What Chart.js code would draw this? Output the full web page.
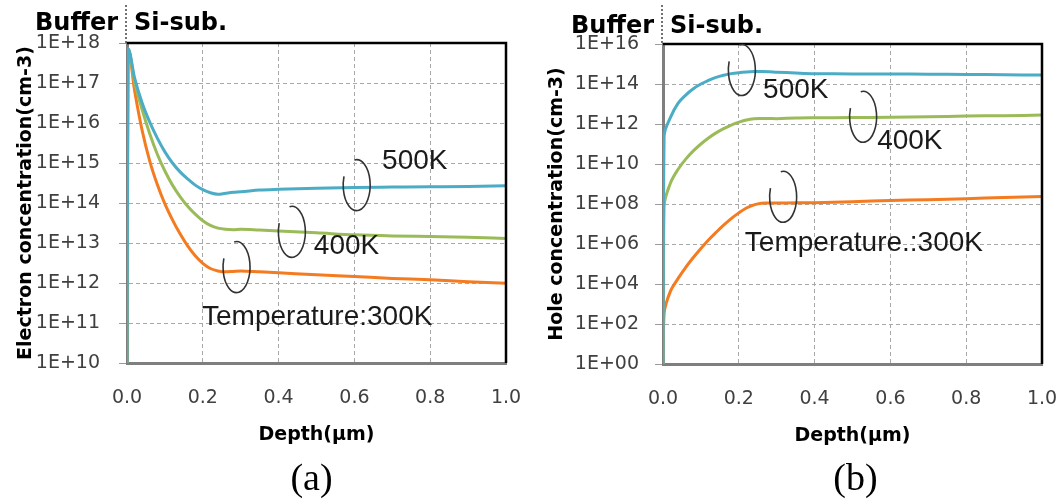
<!DOCTYPE html>
<html>
<head>
<meta charset="utf-8">
<script src="https://cdn.jsdelivr.net/npm/chart.js@4.4.1/dist/chart.umd.min.js"></script>
<style>
  html, body { margin: 0; padding: 0; background: #fff; }
  #wrap { position: relative; width: 1059px; height: 502px; overflow: hidden; }
  .panel { position: absolute; top: 0; }
  #pa { left: 0; }
  #pb { left: 530px; }
</style>
</head>
<body>
<div id="wrap">
  <canvas id="pa" class="panel" width="530" height="502"></canvas>
  <canvas id="pb" class="panel" width="529" height="502"></canvas>
</div>
<script>
// ---------------- data ----------------
const depthUm = [0, 0.003, 0.02, 0.04, 0.06, 0.08, 0.10, 0.12, 0.14, 0.16, 0.18, 0.20,
                 0.22, 0.24, 0.26, 0.28, 0.30, 0.35, 0.40, 0.50, 0.60, 0.70, 0.80, 0.90, 1.00];

// (a) electron concentration (cm-3)
const electron500K = [1e10, 7.1e17, 1.35e17, 3.16e16, 1.05e16, 4.2e15, 1.9e15, 1.0e15, 6.0e14, 4.0e14, 2.8e14, 2.15e14,
                      1.8e14, 1.65e14, 1.75e14, 1.85e14, 1.9e14, 2.1e14, 2.2e14, 2.35e14, 2.45e14, 2.5e14, 2.55e14, 2.6e14, 2.7e14];
const electron400K = [1e10, 7.1e17, 1.07e17, 2.14e16, 5.4e15, 1.66e15, 6.3e14, 2.8e14, 1.45e14, 8.3e13, 5.25e13, 3.6e13,
                      2.75e13, 2.35e13, 2.2e13, 2.15e13, 2.2e13, 2.1e13, 2.0e13, 1.8e13, 1.6e13, 1.5e13, 1.45e13, 1.4e13, 1.3e13];
const electron300K = [1e10, 7.1e17, 6.5e16, 6.5e15, 1.12e15, 2.9e14, 9.5e13, 3.8e13, 1.7e13, 8.5e12, 4.8e12, 3.1e12,
                      2.3e12, 2.0e12, 1.9e12, 1.95e12, 2.0e12, 1.9e12, 1.8e12, 1.6e12, 1.45e12, 1.3e12, 1.2e12, 1.07e12, 0.98e12];

// (b) hole concentration (cm-3)
const hole500K = [1, 2.5e11, 2.2e12, 1.1e13, 2.8e13, 5.8e13, 1.0e14, 1.5e14, 2.15e14, 2.75e14, 3.3e14, 3.7e14,
                  4.0e14, 4.2e14, 4.2e14, 4.1e14, 3.9e14, 3.55e14, 3.3e14, 3.2e14, 3.15e14, 3.1e14, 3.0e14, 2.9e14, 2.8e14];
const hole400K = [1, 8e7, 1.15e9, 5.5e9, 1.75e10, 4.5e10, 1.0e11, 2.0e11, 3.6e11, 5.9e11, 8.9e11, 1.23e12,
                  1.6e12, 1.85e12, 1.9e12, 1.9e12, 1.85e12, 2.0e12, 2.05e12, 2.1e12, 2.15e12, 2.3e12, 2.5e12, 2.6e12, 2.8e12];
const hole300K = [1, 350, 4500, 1.9e4, 6.8e4, 2.1e5, 6.0e5, 1.6e6, 3.8e6, 8.7e6, 1.86e7, 3.6e7,
                  6.3e7, 9.1e7, 1.1e8, 1.12e8, 1.12e8, 1.15e8, 1.17e8, 1.3e8, 1.5e8, 1.65e8, 1.85e8, 2.1e8, 2.35e8];

const xTickValues = [0, 0.2, 0.4, 0.6, 0.8, 1.0];
const xTickLabels = ['0.0', '0.2', '0.4', '0.6', '0.8', '1.0'];
const electronTickValues = [1e10, 1e11, 1e12, 1e13, 1e14, 1e15, 1e16, 1e17, 1e18];
const electronTickLabels = ['1E+10', '1E+11', '1E+12', '1E+13', '1E+14', '1E+15', '1E+16', '1E+17', '1E+18'];
const holeTickValues = [1e0, 1e2, 1e4, 1e6, 1e8, 1e10, 1e12, 1e14, 1e16];
const holeTickLabels = ['1E+00', '1E+02', '1E+04', '1E+06', '1E+08', '1E+10', '1E+12', '1E+14', '1E+16'];

const seriesColors = { k500: '#4BACC6', k400: '#9BBB59', k300: '#F47B20' };

// ---------------- helpers ----------------
function pts(values) { return depthUm.map((d, i) => ({ x: d, y: values[i] })); }

function ds(label, values, color, smooth) {
  const o = {
    label, data: pts(values), borderColor: color, backgroundColor: color,
    borderWidth: 3, pointRadius: 0, fill: false
  };
  if (smooth === 'monotone') o.cubicInterpolationMode = 'monotone';
  else o.tension = 0.35;
  return o;
}

function decoPlugin(cfg) {
  return {
    id: 'deco',
    afterDatasetsDraw(chart) {
      const { ctx, chartArea: ca, scales } = chart;
      const xs = scales.x, ys = scales.y;
      ctx.save();
      // black frame top & right
      ctx.strokeStyle = '#000';
      ctx.lineWidth = 2.5;
      ctx.beginPath();
      ctx.moveTo(ca.left, ca.top);
      ctx.lineTo(ca.right, ca.top);
      ctx.lineTo(ca.right, ca.bottom);
      ctx.stroke();
      // rings
      ctx.strokeStyle = '#333';
      ctx.lineWidth = 1.6;
      cfg.rings.forEach(r => {
        const cx = xs.getPixelForValue(r.x), cy = ys.getPixelForValue(r.y);
        ctx.beginPath();
        ctx.ellipse(cx, cy, 13.5, 25.5, 0, -100 * Math.PI / 180, 200 * Math.PI / 180);
        ctx.stroke();
      });
      // labels
      ctx.fillStyle = '#1a1a1a';
      ctx.font = '28px "Liberation Sans", Arial, sans-serif';
      ctx.textAlign = 'left';
      ctx.textBaseline = 'middle';
      cfg.labels.forEach(l => {
        ctx.fillText(l.text, xs.getPixelForValue(l.x), ys.getPixelForValue(l.y));
      });
      // header: Buffer | Si-sub.
      const x0 = xs.getPixelForValue(0);
      ctx.strokeStyle = '#444';
      ctx.lineWidth = 1.5;
      ctx.setLineDash([2, 2]);
      ctx.beginPath();
      ctx.moveTo(x0 - 1, 5);
      ctx.lineTo(x0 - 1, ca.top);
      ctx.stroke();
      ctx.setLineDash([]);
      ctx.fillStyle = '#000';
      ctx.font = 'bold 24px "DejaVu Sans", sans-serif';
      ctx.textBaseline = 'alphabetic';
      ctx.textAlign = 'right';
      ctx.fillText('Buffer', x0 - 9, cfg.headerBaseline);
      ctx.textAlign = 'left';
      ctx.fillText('Si-sub.', x0 + 7, cfg.headerBaseline);
      // caption
      ctx.font = '38px "Liberation Serif", "Times New Roman", serif';
      ctx.textAlign = 'center';
      ctx.textBaseline = 'middle';
      ctx.fillText(cfg.caption, (ca.left + ca.right) / 2 + cfg.captionShift, 480);
      ctx.restore();
    }
  };
}

function makeChart(canvasId, datasets, yTickValues, yTickLabels, yTitle, layout, deco) {
  return new Chart(document.getElementById(canvasId), {
    type: 'line',
    data: { datasets },
    options: {
      responsive: false,
      animation: false,
      layout: { padding: layout.padding },
      plugins: { legend: { display: false }, tooltip: { enabled: false } },
      scales: {
        x: {
          type: 'linear', min: 0, max: 1,
          afterBuildTicks: s => { s.ticks = xTickValues.map(v => ({ value: v })); },
          afterFit: s => { s.height = layout.xHeight; },
          grid: { color: '#a8a8a8', lineWidth: 1, drawTicks: true, tickLength: 24, tickColor: 'rgba(0,0,0,0)' },
          border: { display: true, color: '#7f7f7f', width: 3, dash: [4, 3] },
          ticks: {
            padding: 0, autoSkip: false, maxRotation: 0, color: '#404040',
            font: { family: '"DejaVu Sans", sans-serif', size: 19 },
            callback: (v, i) => xTickLabels[i]
          },
          title: {
            display: true, text: 'Depth(μm)', color: '#000', padding: { top: 0, bottom: 0 },
            font: { family: '"DejaVu Sans", sans-serif', size: 19, weight: 'bold' }
          }
        },
        y: {
          type: 'logarithmic',
          min: yTickValues[0], max: yTickValues[yTickValues.length - 1],
          afterBuildTicks: s => { s.ticks = yTickValues.map(v => ({ value: v })); },
          afterFit: s => { s.width = layout.yWidth; },
          grid: { color: '#a8a8a8', lineWidth: 1, drawTicks: true, tickLength: 8, tickColor: '#9a9a9a', tickBorderDash: [] },
          border: { display: true, color: '#7f7f7f', width: 3, dash: [4, 3] },
          ticks: {
            padding: layout.yTickPad, autoSkip: false, color: '#404040',
            font: { family: '"DejaVu Sans", sans-serif', size: 19 },
            callback: (v) => yTickLabels[yTickValues.indexOf(v)]
          },
          title: {
            display: true, text: yTitle, color: '#000', padding: { top: layout.yTitlePad, bottom: 0 },
            font: { family: '"DejaVu Sans", sans-serif', size: 19, weight: 'bold' }
          }
        }
      }
    },
    plugins: [decoPlugin(deco)]
  });
}

makeChart('pa',
  [ds('500K', electron500K, seriesColors.k500, 'monotone'), ds('400K', electron400K, seriesColors.k400, 'monotone'), ds('300K', electron300K, seriesColors.k300, 'monotone')],
  electronTickValues, electronTickLabels, 'Electron concentration(cm-3)',
  { padding: { left: 0, right: 24, top: 43, bottom: 56 }, xHeight: 83, yWidth: 127, yTickPad: 19, yTitlePad: 15 },
  {
    caption: '(a)', captionShift: -5, headerBaseline: 30,
    rings: [{ x: 0.606, y: 2.8e14 }, { x: 0.435, y: 1.9e13 }, { x: 0.289, y: 2.5e12 }],
    labels: [
      { text: '500K', x: 0.673, y: 1.1e15 },
      { text: '400K', x: 0.493, y: 8.1e12 },
      { text: 'Temperature:300K', x: 0.198, y: 1.4e11 }
    ]
  });

makeChart('pb',
  [ds('500K', hole500K, seriesColors.k500, 'tension'), ds('400K', hole400K, seriesColors.k400, 'tension'), ds('300K', hole300K, seriesColors.k300, 'tension')],
  holeTickValues, holeTickLabels, 'Hole concentration(cm-3)',
  { padding: { left: 0, right: 17, top: 44, bottom: 55 }, xHeight: 83, yWidth: 133, yTickPad: 16, yTitlePad: 15.5 },
  {
    caption: '(b)', captionShift: 3, headerBaseline: 33,
    rings: [{ x: 0.208, y: 5e14 }, { x: 0.528, y: 2.3e12 }, { x: 0.317, y: 2.3e8 }],
    labels: [
      { text: '500K', x: 0.264, y: 5e13 },
      { text: '400K', x: 0.565, y: 1.3e11 },
      { text: 'Temperature.:300K', x: 0.216, y: 1.1e6 }
    ]
  });
</script>
</body>
</html>
